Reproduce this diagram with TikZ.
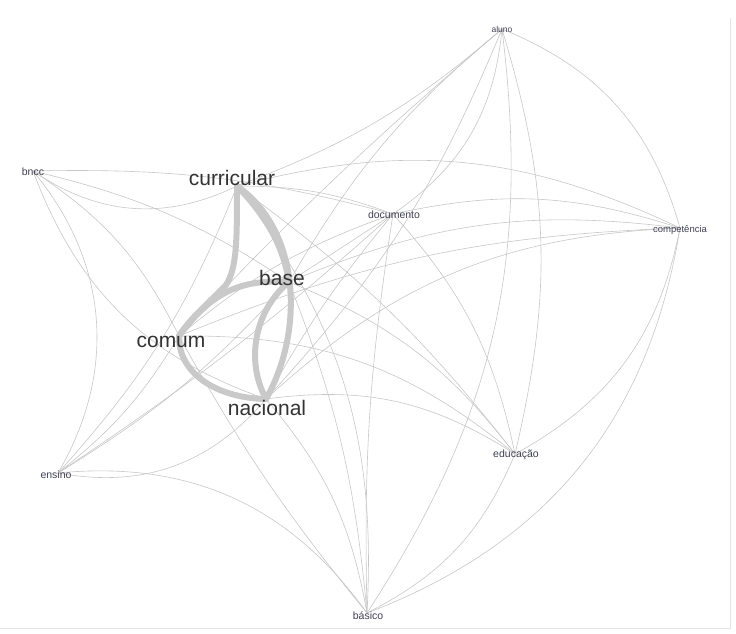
\documentclass[tikz,border=0pt]{standalone}
\usepackage{fontspec}
\setmainfont{Liberation Sans}
\begin{document}
\begin{tikzpicture}[x=1pt,y=-1pt,
  weak/.style={draw=black!22,line width=0.6pt},
  strong/.style={draw=black!21,line width=6pt,line cap=round},
  big/.style={font=\fontsize{21}{21}\selectfont,text=black!80,inner sep=0pt,anchor=base},
  small/.style={font=\fontsize{10.5}{10.5}\selectfont,text={rgb,255:red,64;green,64;blue,84},inner sep=0pt,anchor=base},
  frame/.style={draw=black!10,line width=0.8pt}]
\useasboundingbox (0,0) rectangle (736,633);
% hubs
\coordinate (B) at (33,171);
\coordinate (A) at (502,29);
\coordinate (D) at (393,214);
\coordinate (K) at (680,228);
\coordinate (E) at (515,454);
\coordinate (N) at (58,473);
\coordinate (S) at (367,613);
\coordinate (C) at (237,186);
\coordinate (Ba) at (289,282);
\coordinate (Co) at (179,336);
\coordinate (Na) at (266,399);
% frame
\draw[frame] (730,18) -- (730,628) -- (0,628);
% thin edges
\draw[weak] (B) to[bend right=30] (C);
\draw[weak] (B) to[bend left=8] (D);
\draw[weak] (B) to[bend left=10] (Ba);
\draw[weak] (B) to[bend left=15] (Co);
\draw[weak] (B) to[bend right=25] (Na);
\draw[weak] (B) to[bend left=35] (N);
\draw[weak] (N) to[bend right=10] (Co);
\draw[weak] (N) to[bend right=10] (C);
\draw[weak] (N) to[bend right=8] (Ba);
\draw[weak] (N) to[bend right=30] (Na);
\draw[weak] (N) to[bend right=4] (D);
\draw[weak] (N) to[bend left=30] (S);
\draw[weak] (C) to[bend left=10] (D);
\draw[weak] (C) to[bend left=20] (K);
\draw[weak] (C) to[bend right=10] (A);
\draw[weak] (C) to[bend left=8] (E);
\draw[weak] (C) to[bend left=20] (S);
\draw[weak] (Ba) to (D);
\draw[weak] (A) to[bend right=10] (Ba);
\draw[weak] (K) to[bend right=15] (Ba);
\draw[weak] (Ba) to[bend left=15] (E);
\draw[weak] (S) to[bend right=8] (Ba);
\draw[weak] (Co) to[bend left=10] (D);
\draw[weak] (A) to[bend right=3] (Co);
\draw[weak] (K) to[bend right=10] (Co);
\draw[weak] (Co) to[bend left=20] (E);
\draw[weak] (Co) to[bend right=5] (S);
\draw[weak] (Na) to[bend left=5] (D);
\draw[weak] (Na) to[bend right=10] (A);
\draw[weak] (K) to[bend right=20] (Na);
\draw[weak] (Na) to[bend left=20] (E);
\draw[weak] (S) to[bend right=15] (Na);
\draw[weak] (D) to[bend left=15] (E);
\draw[weak] (D) to[bend right=5] (S);
\draw[weak] (A) to[bend left=25] (D);
\draw[weak] (K) to[bend right=15] (D);
\draw[weak] (A) to[bend left=15] (E);
\draw[weak] (K) to[bend left=25] (E);
\draw[weak] (E) to[bend left=20] (S);
\draw[weak] (K) to[bend left=30] (S);
\draw[weak] (A) to[bend left=20] (S);
\draw[weak] (A) to[bend left=26] (K);
% strong edges
\draw[strong] (C) .. controls (262,212) and (282,240) .. (Ba);
\draw[strong] (C) .. controls (300,230) and (305,330) .. (Na);
\draw[strong] (C) .. controls (237,240) and (237,268) .. (226,285) .. controls (212,300) and (190,318) .. (Co);
\draw[strong] (Ba) .. controls (240,279) and (212,292) .. (Co);
\draw[strong] (Ba) .. controls (255,310) and (245,360) .. (Na);
\draw[strong] (Co) .. controls (178,372) and (215,398) .. (Na);
% labels
\node[big] (tC) at (232,185) {curricular};
\node[big] (tBa) at (282,285) {base};
\node[big] (tCo) at (171,347) {comum};
\node[big] (tNa) at (267,415) {nacional};
\node[small] (tB) at (33,175) {bncc};
\node[small,font=\fontsize{8.5}{8.5}\selectfont] (tA) at (502,32) {aluno};
\node[small] (tD) at (394,218) {documento};
\node[small,font=\fontsize{9.5}{9.5}\selectfont] (tK) at (680,232) {competência};
\node[small] (tE) at (516,457) {educação};
\node[small] (tN) at (56,478) {ensino};
\node[small] (tS) at (368,619) {básico};
\end{tikzpicture}
\end{document}
